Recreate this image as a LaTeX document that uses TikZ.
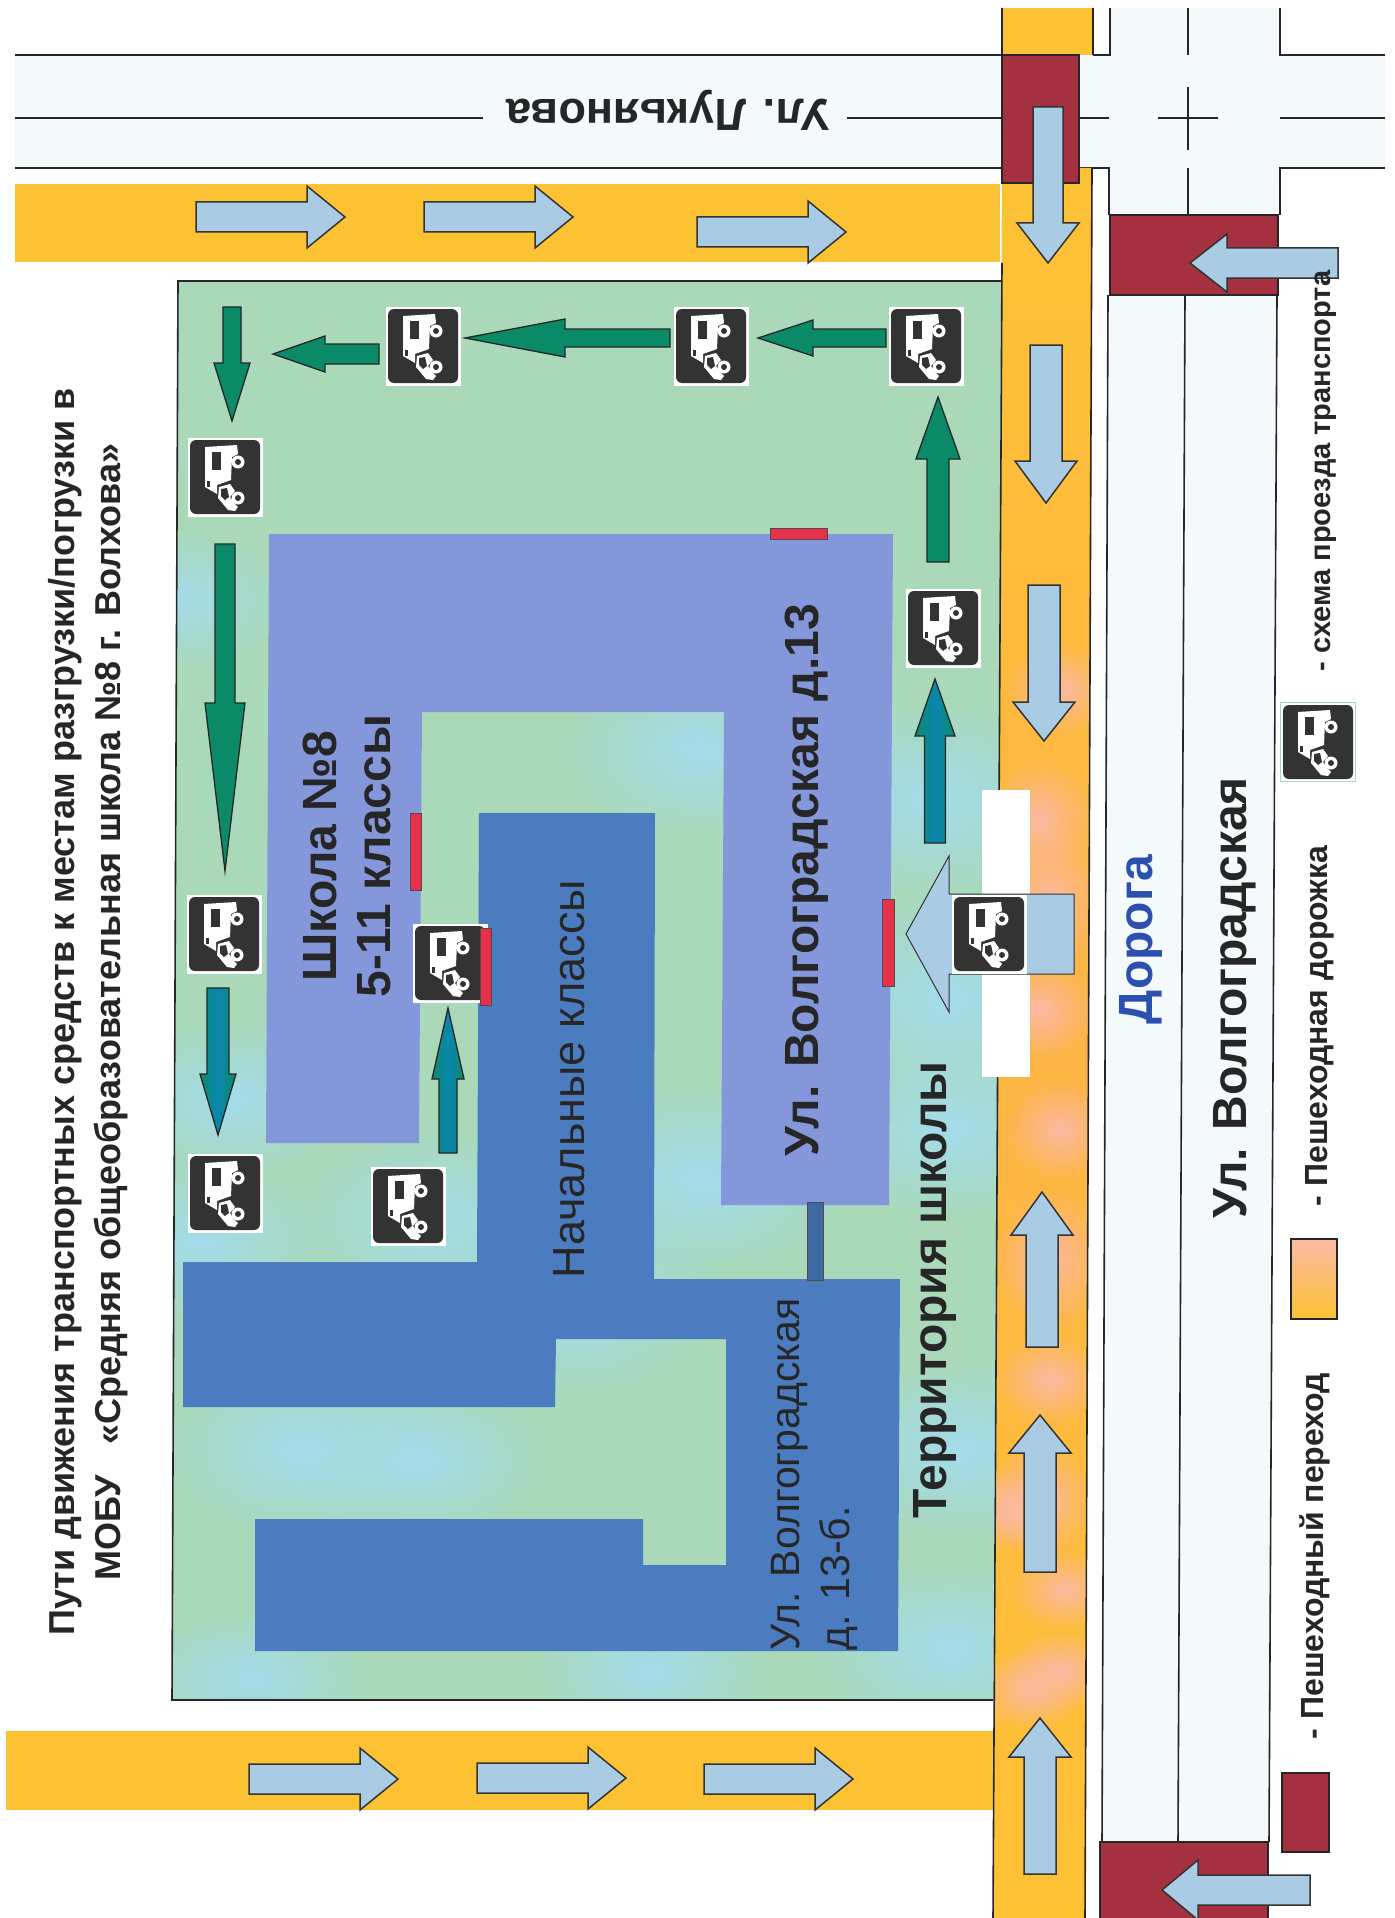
\documentclass[tikz,border=0pt]{standalone}
\usepackage{fontspec}
\setmainfont{Liberation Sans}
\usepackage{xcolor}
\usetikzlibrary{fadings}
\definecolor{roadfill}{HTML}{F4F9FB}
\definecolor{walkway}{HTML}{FDC234}
\definecolor{walkorange}{HTML}{FDB445}
\definecolor{walkpink}{HTML}{FCB9A4}
\definecolor{crossing}{HTML}{A5303F}
\definecolor{walkarrow}{HTML}{A9CBE3}
\definecolor{yard}{HTML}{A9D9B9}
\definecolor{yardblue}{HTML}{A4DCEC}
\definecolor{mainblock}{HTML}{8497DA}
\definecolor{lowblock}{HTML}{4B7CC0}
\definecolor{routegreen}{HTML}{0B8A68}
\definecolor{routeteal}{HTML}{0A86B0}
\definecolor{vandark}{HTML}{333333}
\definecolor{doorred}{HTML}{E8304A}
\definecolor{roadname}{HTML}{2C50B0}
\tikzfading[name=softblob, inner color=transparent!0, outer color=transparent!100]
\tikzset{
    %Define style for road lines
    roadline/.style={
           draw=black!85, line width=1.6pt},
    %Define styles for block arrows
    walk/.style={
           fill=walkarrow,
           draw=black!80, line width=1.5pt},
    route/.style={
           fill=routegreen,
           draw=black!85, line width=1.3pt},
    routeblue/.style={
           left color=routegreen, right color=routegreen, middle color=routeteal,
           draw=black!85, line width=1.3pt},
    %Define styles for texts
    lbl/.style={
           rotate=90,
           inner sep=0pt,
           text=black!85},
    lblbold/.style={
           lbl,
           font=\fontsize{48}{54}\selectfont\bfseries},
    lblplain/.style={
           lbl,
           font=\fontsize{45}{54}\selectfont},
    legendtext/.style={
           lbl,
           font=\fontsize{32}{38}\selectfont\bfseries},
    door/.style={
           fill=doorred,
           draw=black!70, line width=.8pt},
    vanbox/.style={
           rectangle,
           fill=white,
           minimum width=75pt,
           minimum height=79pt,
           inner sep=0pt},
    blob/.style={
           fill=#1,
           path fading=softblob},
    vanicon/.pic={
       \fill[vandark,rounded corners=6pt] (-35,-37) rectangle (35,37);
       \fill[white] (-20,-30) -- (12,-32) -- (13,-23) -- (7,-20) -- (6,3) -- (-8,8) -- (-8,17) -- (-20,10) -- cycle;
       \fill[white] (-6,10) -- (5,7) -- (10,14) -- (5,20) -- (9,26) -- (13,30) -- (10,34) -- (3,33) -- (-7,21) -- cycle;
       \fill[vandark] (-13,-25) rectangle (-4,-7);
       \fill[vandark] (-4,12) -- (2,11) -- (4,20) -- (0,23) -- (-4,19) -- cycle;
       \fill[vandark] (-18,4) rectangle (-15,10);
       \fill[white] (13,-15) circle (6.5) (13,21) circle (6.5);
       \fill[vandark] (13,-15) circle (3) (13,21) circle (3);
    }
}
\newcommand{\blockarrow}[7][walk]{
  \draw[#1,shift={(#2)},rotate=#3] (0,-#6) -- ({#4-#5},-#6) -- ({#4-#5},-#7) -- (#4,0)
     -- ({#4-#5},#7) -- ({#4-#5},#6) -- (0,#6) -- cycle;
}
\begin{document}
\begin{tikzpicture}[x=1pt,y=-1pt]
\path[use as bounding box,fill=white] (0,0) rectangle (1394,1918);
% roads
\fill[roadfill] (15,55) rectangle (1385,168);
\fill[roadfill] (1110,8) -- (1280,8) -- (1277,295) -- (1269,1842) -- (1102,1842) -- (1108,295) -- cycle;
\draw[roadline] (15,55) -- (1002,55) (1093,55) -- (1110,55) -- (1110,8) (1280,8) -- (1280,55) -- (1385,55);
\draw[roadline] (15,168) -- (1002,168) (1080,168) -- (1109,168) -- (1109,215) (1280,215) -- (1280,168) -- (1385,168);
\draw[roadline] (15,118) -- (483,118) (847,118) -- (1002,118) (1079,118) -- (1109,118)
   (1158,118) -- (1218,118) (1280,118) -- (1385,118);
\draw[roadline] (1188,8) -- (1188,55) (1188,87) -- (1188,150) (1188,168) -- (1188,215);
\draw[roadline] (1108,295) -- (1102,1842) (1185,295) -- (1178,1842) (1277,295) -- (1269,1842);
% walkways
\fill[walkway] (15,184) rectangle (1000,262);
\fill[walkway] (6,1731) rectangle (993,1810);
\begin{scope}
\clip (1002,168) -- (1092,168) -- (1085,1918) -- (993,1918) -- cycle;
\shade[top color=walkway,bottom color=walkway,middle color=walkorange] (990,160) rectangle (1100,1918);
\foreach \x/\y/\r in {1040/820/60,1060/690/45,1040/1010/50,1060/1130/50,1050/1380/45,1065/1590/40,1010/1510/40,1060/1670/40,1030/1690/40,1050/900/70,1050/1260/70,1040/1500/60}{
  \fill[blob=walkpink] (\x,\y) ellipse (55 and \r);
}
\end{scope}
\fill[walkway] (1002,8) rectangle (1093,55);
\draw[roadline] (1002,8) -- (1002,55) (1093,8) -- (1093,55) (1092,168) -- (1085,1918);
% school yard
\begin{scope}
\clip (178,281) -- (1002,281) -- (993,1700) -- (172,1700) -- cycle;
\fill[yard] (170,275) rectangle (1005,1705);
\foreach \x/\y/\r in {230/1100/80,200/1240/80,430/1220/90,700/1180/100,950/1000/110,930/800/100,950/1130/90,700/750/90,570/1300/100,300/1450/90,420/1460/80,250/1680/70,650/1670/70,950/1650/90,960/1450/90,170/600/70}{
  \fill[blob=yardblue] (\x,\y) ellipse (\r+50 and \r);
}
\end{scope}
\draw[roadline] (1002,281) -- (178,281) -- (172,1700) -- (993,1700);
\draw[roadline] (1002,263) -- (993,1918);
% gap at the gate
\fill[white] (982,790) rectangle (1030,1077);
% buildings
\fill[mainblock] (269,534) -- (893,534) -- (889,1205) -- (721,1205) -- (724,712) -- (422,712) -- (419,1143) -- (266,1143) -- cycle;
\fill[lowblock] (479,813) -- (655,813) -- (654,1279) -- (900,1279) -- (898,1651) -- (255,1651) -- (255,1519) -- (643,1519)
  -- (643,1565) -- (726,1565) -- (726,1339) -- (556,1339) -- (555,1407) -- (183,1407) -- (183,1262) -- (477,1262) -- cycle;
\fill[lowblock!85!black,draw=black!70,line width=.8pt] (807,1202) rectangle (823,1280);
% crossings
\filldraw[crossing,draw=black!85,line width=1.5pt] (1002,55) rectangle (1079,183);
\filldraw[crossing,draw=black!85,line width=1.5pt] (1110,215) rectangle (1278,295);
\filldraw[crossing,draw=black!85,line width=1.5pt] (1100,1842) rectangle (1268,1925);
% walking arrows
\foreach \x/\y in {196/217,424/217,697/232,249/1779,477/1778,704/1779}{
  \blockarrow{\x,\y}{0}{149}{38}{15}{31}
}
\blockarrow{1048,107}{-90}{156}{40}{15}{31}
\blockarrow{1046,345}{-90}{158}{42}{16}{31}
\blockarrow{1044,585}{-90}{156}{39}{16}{31}
\blockarrow{1042,1347}{90}{155}{43}{16}{31}
\blockarrow{1040,1572}{90}{157}{38}{16}{31}
\blockarrow{1040,1874}{90}{156}{39}{16}{31}
\blockarrow{1338,263}{180}{148}{37}{15}{29}
\blockarrow{1310,1890}{180}{148}{36}{15}{30}
\blockarrow[walk,line width=1pt]{1074,934}{180}{168}{43}{40}{78}
% route arrows
\blockarrow[route]{886,338}{180}{128}{55}{9}{18}
\blockarrow[route]{670,338}{180}{205}{100}{9}{19}
\blockarrow[route]{379,354}{180}{106}{52}{10}{18}
\blockarrow[route]{232,307}{-90}{114}{58}{9}{18}
\blockarrow[route]{225,544}{-90}{327}{168}{10}{20}
\blockarrow[routeblue]{218,988}{-90}{147}{61}{11}{18}
\blockarrow[routeblue]{448,1153}{90}{145}{71}{9}{16}
\blockarrow[routeblue]{935,843}{90}{164}{57}{10.5}{20}
\blockarrow[route]{938,562}{90}{165}{62}{11}{22}
% vans
\foreach \name/\x/\y in {vanright/926/346,vanmid/711/346,vanleft/423/346,vancorner/225/477,vanfront/224/934,
   vanback/225/1193,vanlow/408/1206,vanturn/943/628,vangate/989/934,vandoor/450/963,vanlegend/1318/742}{
  \node[vanbox] (\name) at (\x,\y) {};
  \pic at (\name) {vanicon};
}
\draw[yard,line width=1.5pt] (vanlegend.south west) rectangle (vanlegend.north east);
% doors
\filldraw[door] (770,528) rectangle (827,539);
\filldraw[door] (410,813) rectangle (421,890);
\filldraw[door] (480,928) rectangle (491,1005);
\filldraw[door] (882,899) rectangle (894,986);
% legend
\filldraw[crossing,draw=black!85,line width=1.2pt] (1282,1773) rectangle (1329,1852);
\shade[top color=walkpink,bottom color=walkway,draw=black!85,line width=1.2pt] (1291,1239) rectangle (1337,1319);
\node[legendtext] (crosslabel) at (1315,1556) {- Пешеходный переход};
\node[legendtext] (walklabel) at (1320,1026) {- Пешеходная дорожка};
\node[legendtext,font=\fontsize{29}{34}\selectfont\bfseries] (vanlabel) at (1326,471) {- схема проезда транспорта};
% labels
\node[lbl,align=center,font=\fontsize{36}{46}\selectfont\bfseries] (title) at (88,1012)
  {Пути движения транспортных средств к местам разгрузки/погрузки в\\ МОБУ\ \ \ «Средняя общеобразовательная школа №8 г. Волхова»};
\node[lblbold,rotate=90,font=\fontsize{45}{54}\selectfont\bfseries] (street) at (668,110) {Ул. Лукьянова};
\node[lblbold,align=center] (school) at (347,856) {Школа №8\\5-11 классы};
\node[lblplain] (primary) at (569,1079) {Начальные классы};
\node[lblbold] (addressmain) at (807,880) {Ул. Волгоградская д.13};
\node[lblbold] (grounds) at (935,1290) {Территория школы};
\node[lblplain,font=\fontsize{41}{50}\selectfont,align=left,anchor=north west] (addresslow) at (771,1651) {Ул. Волгоградская\\д. 13-б.};
\node[lblbold,text=roadname] (road) at (1141,940) {Дорога};
\node[lblbold] (streetmain) at (1235,998) {Ул. Волгоградская};
\end{tikzpicture}
\end{document}
